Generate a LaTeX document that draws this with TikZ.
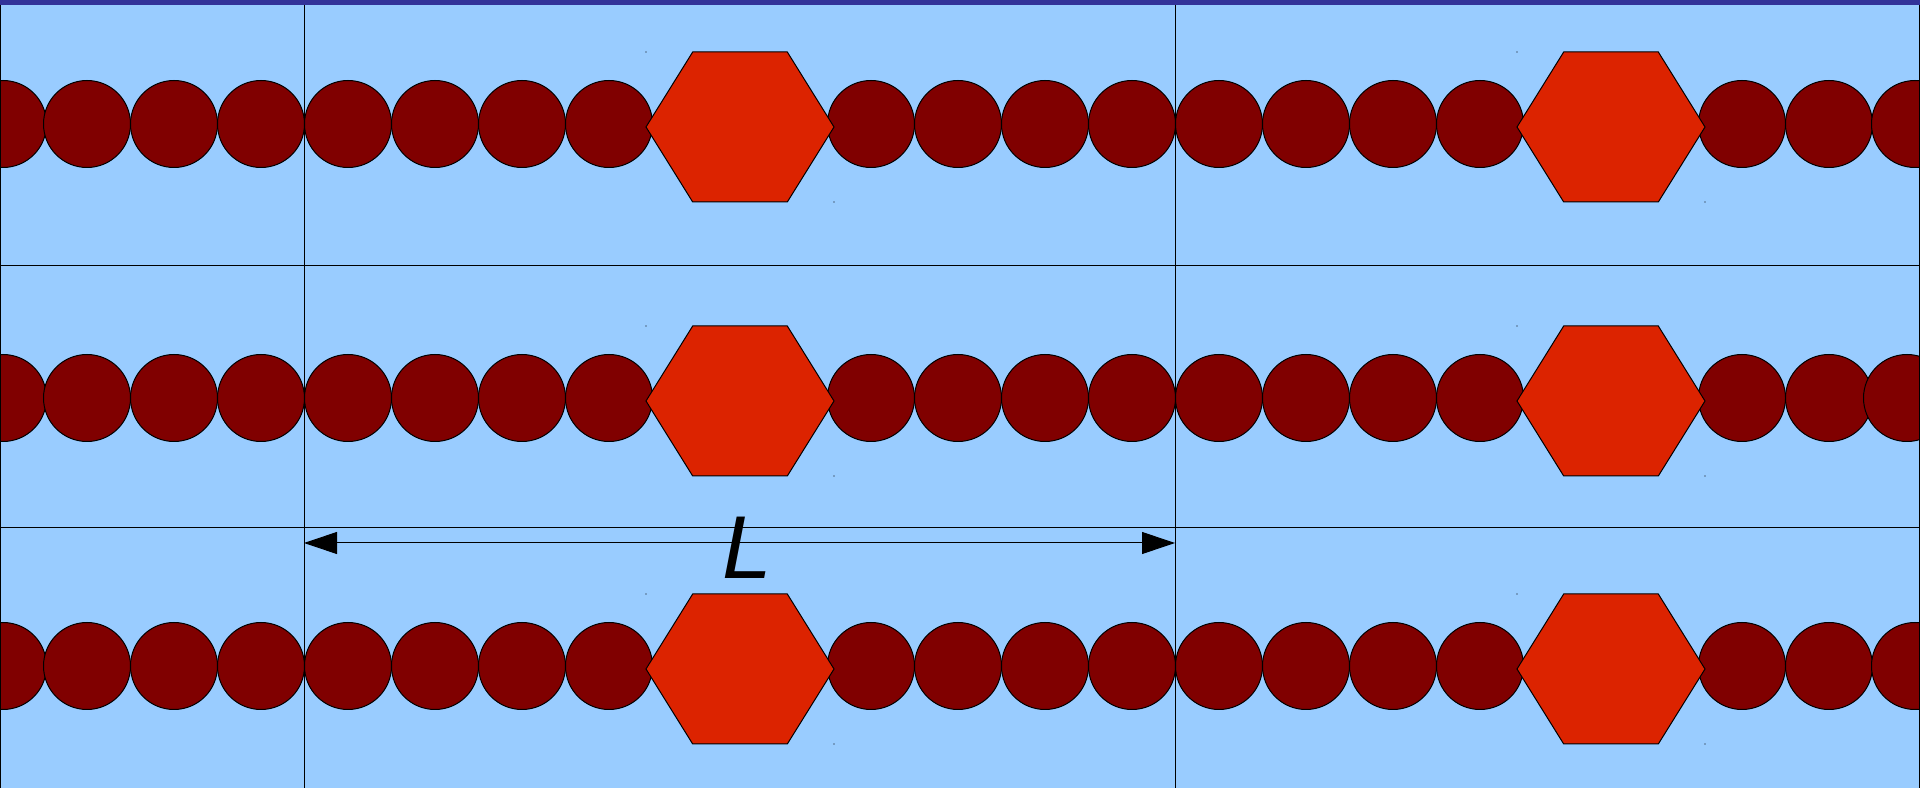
\documentclass[tikz,border=0pt]{standalone}
\usepackage{fontspec}
\newfontfamily\labelfont{Liberation Sans}
\usetikzlibrary{arrows.meta}
\definecolor{cellblue}{HTML}{99CCFF}
\definecolor{barblue}{HTML}{333399}
\definecolor{beadred}{HTML}{800000}
\definecolor{hexred}{HTML}{DC2300}
\begin{document}
\begin{tikzpicture}[x=0.1mm,y=-0.1mm,
    bead/.style={draw=black, line width=0.1mm, fill=beadred},
    hexbox/.style={draw=black, line width=0.1mm, fill=hexred},
    cellline/.style={draw=black, line width=0.1mm}]
  \useasboundingbox (0,0) rectangle (1920,788);
  % Background
  \fill[cellblue] (0,0) rectangle (1920,788);
  \fill[barblue] (0,0) rectangle (1920,5);
  % Rows of beads and hexagons
  \foreach \cy/\hy/\last in {124/127/1915, 398/401/1907, 666/669/1915}{
    \foreach \cx in {3,87,174,261,348,435,522,609,871,958,1045,1132,1219,1306,1393,1480,1742,1829}
      \draw[bead] (\cx,\cy) circle[radius=4.35mm];
    \draw[bead] (\last,\cy) circle[radius=4.35mm];
    \foreach \hx in {740,1611}{
      \draw[hexbox] (\hx-94,\hy) -- ++(46.7,-75) -- ++(94.6,0) -- ++(46.7,75)
        -- ++(-46.7,75) -- ++(-94.6,0) -- cycle;
      \fill (\hx-94,\hy-75) circle[radius=0.07mm];
      \fill (\hx+94,\hy+75) circle[radius=0.07mm];
    }
  }
  % Cell lines
  \draw[cellline] (304,5) -- (304,788);
  \draw[cellline] (1175,5) -- (1175,788);
  \draw[cellline] (0,266) -- (1920,266);
  \draw[cellline] (0,528) -- (1920,528);
  \draw[cellline] (0.5,5) -- (0.5,788);
  \draw[cellline] (1919.5,5) -- (1919.5,788);
  % Period arrow
  \coordinate (Lstart) at (304,543);
  \coordinate (Lend) at (1175,543);
  \draw[line width=0.1mm, {Triangle[length=3.3mm,width=2.2mm]}-{Triangle[length=3.3mm,width=2.2mm]}] (Lstart) -- (Lend);
  \node[anchor=base west, inner sep=0pt, font=\labelfont\itshape\fontsize{25.4pt}{30pt}\selectfont] (Llabel) at (722,579) {L};
\end{tikzpicture}
\end{document}
